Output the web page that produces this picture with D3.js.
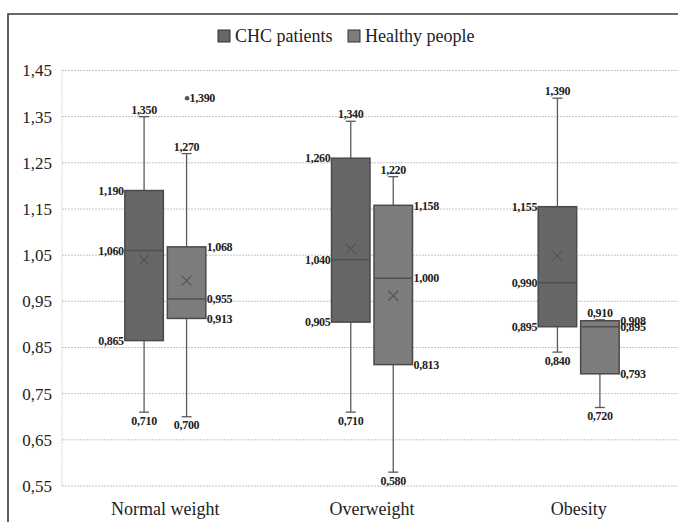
<!DOCTYPE html>
<html>
<head>
<meta charset="utf-8">
<script src="https://cdn.jsdelivr.net/npm/d3@7/dist/d3.min.js"></script>
<style>
  html, body { margin: 0; padding: 0; background: #fff; }
  svg { display: block; }
</style>
</head>
<body>
<div id="chart"></div>
<script>
// ---- data ----
const categories = ["Normal weight", "Overweight", "Obesity"];
const seriesNames = ["CHC patients", "Healthy people"];
const chcMin    = [0.710, 0.710, 0.840];
const chcQ1     = [0.865, 0.905, 0.895];
const chcMedian = [1.060, 1.040, 0.990];
const chcQ3     = [1.190, 1.260, 1.155];
const chcMax    = [1.350, 1.340, 1.390];
const chcMean   = [1.040, 1.064, 1.049];
const hMin      = [0.700, 0.580, 0.720];
const hQ1       = [0.913, 0.813, 0.793];
const hMedian   = [0.955, 1.000, 0.895];
const hQ3       = [1.068, 1.158, 0.908];
const hMax      = [1.270, 1.220, 0.910];
const hMean     = [0.995, 0.962, null];
const hOutliers = [[1.390], [], []];
const yTicks = [0.55, 0.65, 0.75, 0.85, 0.95, 1.05, 1.15, 1.25, 1.35, 1.45];

const W = 678, H = 522;
const FONT = "'Liberation Serif', Tinos, 'DejaVu Serif', 'Noto Serif', 'Times New Roman', Times, serif";
const fmt3 = v => d3.format(".3f")(v).replace(".", ",");
const fmt2 = v => d3.format(".2f")(v).replace(".", ",");

const series = [
  { name: seriesNames[0], fill: "#676767", min: chcMin, q1: chcQ1, med: chcMedian, q3: chcQ3, max: chcMax, mean: chcMean, out: [[],[],[]], side: "left" },
  { name: seriesNames[1], fill: "#7d7d7d", min: hMin, q1: hQ1, med: hMedian, q3: hQ3, max: hMax, mean: hMean, out: hOutliers, side: "right" }
];

const svg = d3.select("#chart").append("svg").attr("width", W).attr("height", H)
  .attr("font-family", FONT).style("font-family", FONT);

const y = d3.scaleLinear().domain([0.55, 1.45]).range([486, 70.5]);
const x = d3.scaleBand().domain(categories).range([62, 682]);
const xs = d3.scaleBand().domain(seriesNames).range([0, x.bandwidth()]).paddingInner(0.094).paddingOuter(1.479);

// frame
svg.append("path").attr("d", `M8,${H} L8,14 L${W},14`).attr("fill", "none").attr("stroke", "#3a3a3a").attr("stroke-width", 1.6);

// gridlines
svg.append("g").selectAll("line").data(yTicks).join("line")
  .attr("x1", 62).attr("x2", W).attr("y1", d => y(d)).attr("y2", d => y(d))
  .attr("stroke", "#c4c4c4").attr("stroke-width", 1).attr("stroke-dasharray", "2,1");
svg.append("line").attr("x1", 62).attr("x2", 62).attr("y1", y(1.45)).attr("y2", y(0.55))
  .attr("stroke", "#d0d0d0").attr("stroke-dasharray", "2,1");

// y axis labels
svg.append("g").selectAll("text").data(yTicks).join("text")
  .attr("x", 52).attr("y", d => y(d)).attr("dy", "0.35em").attr("text-anchor", "end")
  .attr("font-size", 17).attr("fill", "#222").text(fmt2);

// category labels
svg.append("g").selectAll("text").data(categories).join("text")
  .attr("x", d => x(d) + x.bandwidth() / 2).attr("y", 515).attr("text-anchor", "middle")
  .attr("font-size", 18).attr("fill", "#222").text(d => d);

// boxes
const g = svg.append("g");
const bw = xs.bandwidth();
series.forEach(s => {
  categories.forEach((c, i) => {
    const x0 = x(c) + xs(s.name), cx = x0 + bw / 2;
    const stroke = "#4a4a4a";
    g.append("line").attr("x1", cx).attr("x2", cx).attr("y1", y(s.max[i])).attr("y2", y(s.q3[i])).attr("stroke", "#5a5a5a").attr("stroke-width", 1.3);
    g.append("line").attr("x1", cx).attr("x2", cx).attr("y1", y(s.q1[i])).attr("y2", y(s.min[i])).attr("stroke", "#5a5a5a").attr("stroke-width", 1.3);
    [s.max[i], s.min[i]].forEach(v => {
      g.append("line").attr("x1", cx - 5).attr("x2", cx + 5).attr("y1", y(v)).attr("y2", y(v)).attr("stroke", "#5a5a5a").attr("stroke-width", 1.3);
    });
    g.append("rect").attr("x", x0).attr("width", bw).attr("y", y(s.q3[i])).attr("height", y(s.q1[i]) - y(s.q3[i]))
      .attr("fill", s.fill).attr("stroke", stroke).attr("stroke-width", 1.5);
    g.append("line").attr("x1", x0).attr("x2", x0 + bw).attr("y1", y(s.med[i])).attr("y2", y(s.med[i])).attr("stroke", "#505050").attr("stroke-width", 1.5);
    if (s.mean[i] != null) {
      const my = y(s.mean[i]), r = 5;
      g.append("path").attr("d", `M${cx - r},${my - r}L${cx + r},${my + r}M${cx - r},${my + r}L${cx + r},${my - r}`)
        .attr("stroke", "#555").attr("stroke-width", 1.2).attr("fill", "none");
    }
    s.out[i].forEach(v => {
      g.append("circle").attr("cx", cx + 0.5).attr("cy", y(v)).attr("r", 2.3).attr("fill", "#555");
      g.append("text").attr("x", cx + 3).attr("y", y(v)).attr("dy", "0.35em").attr("font-size", 12).attr("font-weight", "bold").attr("fill", "#222").attr("letter-spacing", -0.3).text(fmt3(v));
    });
    const lab = (xx, yy, anchor, v, dy) => g.append("text").attr("x", xx).attr("y", yy).attr("dy", dy).attr("text-anchor", anchor)
      .attr("font-size", 12).attr("font-weight", "bold").attr("fill", "#222").attr("letter-spacing", -0.3).text(fmt3(v));
    lab(cx, y(s.max[i]) - 3, "middle", s.max[i], "0");
    lab(cx, y(s.min[i]) + 3, "middle", s.min[i], "0.8em");
    const lx = s.side === "left" ? x0 - 1 : x0 + bw + 1;
    const anc = s.side === "left" ? "end" : "start";
    [s.q1[i], s.med[i], s.q3[i]].forEach(v => lab(lx, y(v), anc, v, "0.35em"));
  });
});

// legend
const leg = svg.append("g");
const legItems = [{ name: seriesNames[0], fill: series[0].fill, x: 218 }, { name: seriesNames[1], fill: series[1].fill, x: 348 }];
legItems.forEach(l => {
  leg.append("rect").attr("x", l.x).attr("y", 30).attr("width", 12).attr("height", 12).attr("fill", l.fill).attr("stroke", "#333").attr("stroke-width", 1);
  leg.append("text").attr("x", l.x + 17).attr("y", 36).attr("dy", "0.35em").attr("font-size", 18).attr("fill", "#222").text(l.name);
});
</script>
</body>
</html>
